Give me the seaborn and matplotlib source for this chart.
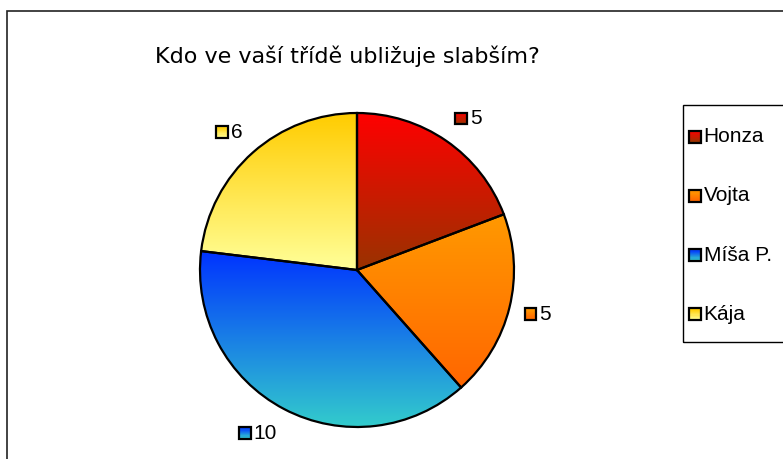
import numpy as np
import pandas as pd
import seaborn as sns
import matplotlib.pyplot as plt
from matplotlib.colors import to_rgb
from matplotlib.patches import Rectangle
from matplotlib.offsetbox import DrawingArea, TextArea, HPacker, AnnotationBbox

# data
title = "Kdo ve vaší třídě ubližuje slabším?"
names = ["Honza", "Vojta", "Míša P.", "Kája"]
counts = [5, 5, 10, 6]
top_colors = ["#FF0000", "#FF9900", "#0033FF", "#FFCC00"]
bottom_colors = ["#993300", "#FF6600", "#33CCCC", "#FFFF99"]

df = pd.DataFrame({"name": names, "count": counts,
                   "top": top_colors, "bottom": bottom_colors})

sns.set_theme(style="white")
plt.rcParams["font.family"] = ["Liberation Sans", "DejaVu Sans"]


def gradient(top, bottom, n=256):
    """Vertical colour ramp from top to bottom, shape (n, 3)"""
    t = np.linspace(0, 1, n)[:, None]
    return (1 - t) * np.array(to_rgb(top)) + t * np.array(to_rgb(bottom))


def swatch(top, bottom, size=8.5):
    """Small gradient square with black outline"""
    da = DrawingArea(size, size, 0, 0)
    n = 10
    cols = gradient(top, bottom, n)
    for k in range(n):
        da.add_artist(Rectangle((0, size - (k + 1) * size / n), size, size / n,
                                facecolor=cols[k], edgecolor="none"))
    da.add_artist(Rectangle((0, 0), size, size, facecolor="none",
                            edgecolor="black", lw=1.6))
    return da


def tagged(text, top, bottom, fontsize=15):
    return HPacker(children=[swatch(top, bottom),
                             TextArea(text, textprops=dict(fontsize=fontsize, color="black"))],
                   align="center", pad=0, sep=2)


W, H = 783, 459
fig = plt.figure(figsize=(W / 100, H / 100), dpi=100)

# outer chart frame (cut by the right and bottom edges)
fig.add_artist(Rectangle((7 / W, -0.05), 1.1, 1 - 11 / H + 0.05, transform=fig.transFigure,
                         facecolor="none", edgecolor="#222222", lw=1.2, clip_on=False))

# pie
ax = fig.add_axes([200 / W, 32 / H, 314 / W, 314 / H])
wedges, _ = ax.pie(df["count"], startangle=90, counterclock=False,
                   wedgeprops=dict(edgecolor="black", linewidth=1.6, facecolor="none"))

for w, row in zip(wedges, df.itertuples()):
    ext = w.get_path().get_extents()
    grad = gradient(row.top, row.bottom)[:, None, :]
    im = ax.imshow(grad, extent=[ext.x0, ext.x1, ext.y0, ext.y1], origin="upper",
                   aspect="auto", interpolation="bilinear", zorder=0)
    im.set_clip_path(w)

    # data label outside the slice
    theta = np.deg2rad((w.theta1 + w.theta2) / 2)
    r = 1.1
    xy = (r * np.cos(theta), r * np.sin(theta))
    align = (0.5 - 0.5 * np.sign(np.cos(theta)), 0.5 - 0.6 * np.sin(theta))
    ab = AnnotationBbox(tagged(str(row.count), row.top, row.bottom), xy, xycoords="data",
                        box_alignment=align, frameon=False, pad=0, annotation_clip=False)
    ax.add_artist(ab)

ax.set_xlim(-1, 1)
ax.set_ylim(-1, 1)
ax.set_aspect("equal")
ax.axis("off")

# title
fig.text(347 / W, 1 - 63 / H, title, ha="center", va="baseline",
         fontsize=16, family=["DejaVu Sans"], color="black")

# legend box (extends past the right edge)
lg_left, lg_top, lg_bottom = 683, 105, 342
fig.add_artist(Rectangle((lg_left / W, 1 - lg_bottom / H), 0.3, (lg_bottom - lg_top) / H,
                         transform=fig.transFigure, facecolor="none",
                         edgecolor="black", lw=1, clip_on=False))
step = (lg_bottom - lg_top) / len(df)
for i, row in enumerate(df.itertuples()):
    y = lg_top + (i + 0.5) * step + 2
    ab = AnnotationBbox(tagged(row.name, row.top, row.bottom), (689 / W, 1 - y / H),
                        xycoords="figure fraction", box_alignment=(0, 0.5),
                        frameon=False, pad=0, annotation_clip=False)
    fig.add_artist(ab)

fig.savefig("out.png", dpi=100)
